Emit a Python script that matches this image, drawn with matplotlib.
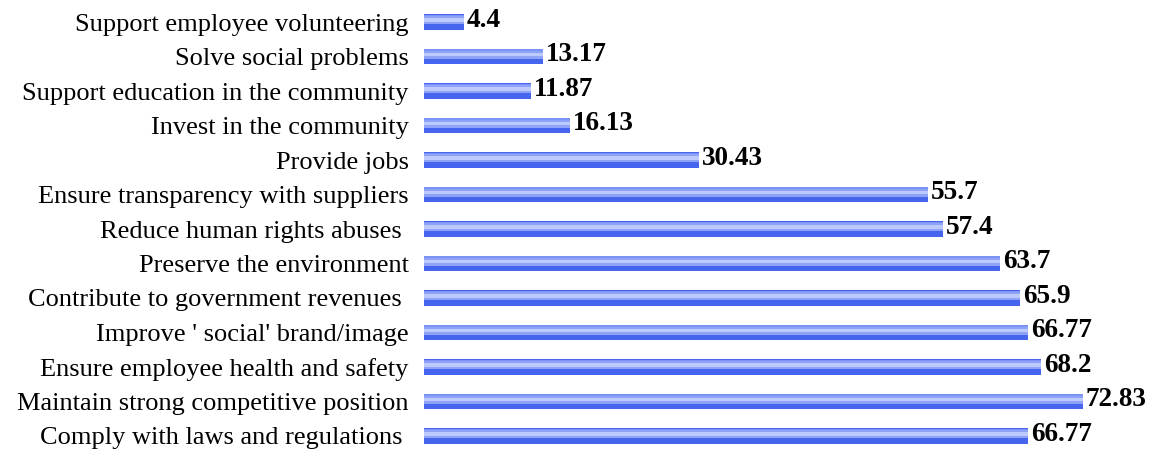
import matplotlib
matplotlib.use("Agg")
import matplotlib.pyplot as plt
import numpy as np

labels = [
    "Support employee volunteering",
    "Solve social problems",
    "Support education in the community",
    "Invest in the community",
    "Provide jobs",
    "Ensure transparency with suppliers",
    "Reduce human rights abuses ",
    "Preserve the environment",
    "Contribute to government revenues ",
    "Improve ' social' brand/image",
    "Ensure employee health and safety",
    "Maintain strong competitive position",
    "Comply with laws and regulations ",
]
values = [4.4, 13.17, 11.87, 16.13, 30.43, 55.7, 57.4, 63.7, 65.9, 66.77, 68.2, 72.83, 66.77]
value_text = ["4.4", "13.17", "11.87", "16.13", "30.43", "55.7", "57.4", "63.7", "65.9", "66.77", "68.2", "72.83", "66.77"]

plt.rcParams["font.family"] = ["Liberation Serif", "DejaVu Serif"]

fig = plt.figure(figsize=(11.53, 4.49), dpi=100)
ax = fig.add_axes([424 / 1153, 0, 1 - 424 / 1153, 1])

# top row first
y = np.arange(len(labels))[::-1]

# bar drawn as bands: dark base, lighter upper part, lightest stripe
ax.barh(y, values, height=0.44, color="#4565ee", edgecolor="none")
ax.barh(y + 0.07, values, height=0.26, color="#8ea3f8", edgecolor="none")
ax.barh(y + 0.06, values, height=0.10, color="#bccaff", edgecolor="none")
ax.barh(y + 0.19, values, height=0.05, color="#7b93f4", edgecolor="none")

for yi, v, t in zip(y, values, value_text):
    ax.text(v + 0.3, yi + 0.05, t, va="center", ha="left", fontsize=19.5,
            fontweight="bold", color="black")

ax.set_yticks(y)
ax.set_yticklabels(labels, fontsize=19)
ax.tick_params(axis="y", length=0, pad=11)
ax.set_xticks([])
ax.set_xlim(0, (1153 - 424) / 9.05)
ax.set_ylim(-0.377, 12.638)
for s in ax.spines.values():
    s.set_visible(False)

fig.savefig("out.png", dpi=100)
